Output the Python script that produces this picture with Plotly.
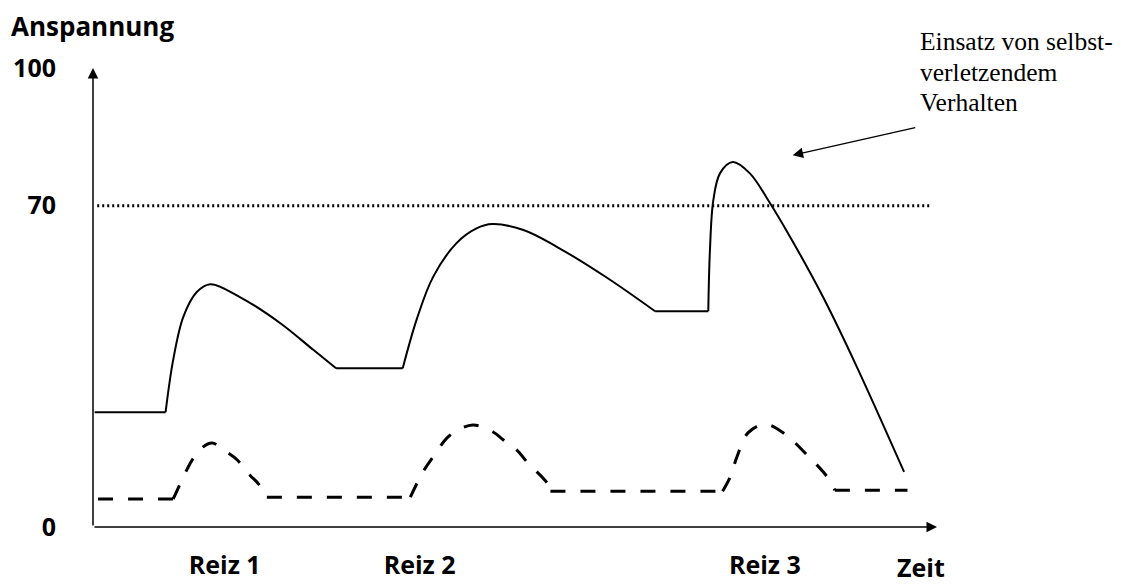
import plotly.graph_objects as go

# ---------------- data ----------------
# Solid curve: tension with self-harm (Zeit, Anspannung)
solid_x = [0.2, 8.6, 9.5, 10.7, 12.3, 13.9, 17.4, 22.2, 26.1, 28.8, 36.7,
           38.4, 40.3, 43.1, 45.5, 47.3, 51.0, 55.0, 60.9, 66.6, 72.9,
           73.1, 73.5, 74.3, 75.8, 77.8, 80.0, 82.6, 86.5, 90.5, 96.1]
solid_y = [25.0, 25.0, 36.4, 45.8, 51.2, 52.9, 50.1, 44.4, 38.6, 34.6, 34.6,
           45.5, 54.5, 61.9, 65.1, 66.0, 64.7, 61.0, 54.3, 47.0, 47.0,
           60.4, 71.2, 77.1, 79.5, 77.1, 71.2, 63.2, 50.1, 34.9, 12.0]

# Dashed curve: tension reaction without build-up
dashed_x = [0.6, 9.5, 10.0, 11.1, 11.9, 13.0, 14.1, 15.9, 17.1, 18.6, 19.6, 20.6,
            37.6, 39.1, 40.3, 42.3, 45.0, 47.4, 48.6, 50.2, 51.4, 53.8, 54.2,
            74.6, 75.5, 76.3, 77.6, 79.6, 81.8, 84.6, 87.0, 87.9, 96.5]
dashed_y = [6.1, 6.1, 8.1, 12.4, 15.0, 17.4, 18.3, 16.3, 14.6, 11.3, 9.4, 6.5,
            6.5, 12.0, 15.3, 20.0, 22.2, 20.7, 19.0, 16.8, 14.2, 9.6, 7.8,
            7.8, 10.9, 15.3, 20.5, 22.4, 20.5, 15.7, 10.9, 8.0, 8.0]

threshold_value = 70
threshold_x = [0.5, 99.2]

y_tick_vals = [0, 70, 100]
y_tick_text = ["0", "70", "100"]
x_tick_vals = [15.6, 38.7, 79.6]
x_tick_text = ["Reiz 1", "Reiz 2", "Reiz 3"]

y_title = "Anspannung"
x_title = "Zeit"
note_lines = ["Einsatz von selbst-", "verletzendem", "Verhalten"]
note_arrow_tail = (97.6, 87.1)
note_arrow_tip = (82.9, 81.0)

# ---------------- layout constants ----------------
W, H = 1126, 585
L, R, T, B = 93, 189, 68, 58
PW, PH = W - L - R, H - T - B

def px_to_paper(px, py):
    return (px - L) / PW, (H - B - py) / PH

BOLD = dict(family="Open Sans", size=25, color="black", weight="bold")
BOLD_TITLE = dict(family="Open Sans", size=26, color="black", weight="bold")
SERIF = dict(family="Liberation Serif", size=25.5, color="black")


def pieces(xs, ys):
    """Split a series into flat (linear) and curved (spline) runs."""
    out, i, n = [], 0, len(xs)
    while i < n - 1:
        if ys[i] == ys[i + 1]:
            out.append(("linear", xs[i:i + 2], ys[i:i + 2]))
            i += 1
        else:
            j = i + 1
            while j < n - 1 and ys[j] != ys[j + 1]:
                j += 1
            out.append(("spline", xs[i:j + 1], ys[i:j + 1]))
            i = j
    return out


fig = go.Figure()

for shape, xs, ys in pieces(solid_x, solid_y):
    fig.add_trace(go.Scatter(x=xs, y=ys, mode="lines", showlegend=False,
                             hoverinfo="skip",
                             line=dict(color="black", width=2, shape=shape,
                                       smoothing=1.0)))

for shape, xs, ys in pieces(dashed_x, dashed_y):
    fig.add_trace(go.Scatter(x=xs, y=ys, mode="lines", showlegend=False,
                             hoverinfo="skip",
                             line=dict(color="black", width=3, shape=shape,
                                       smoothing=1.0, dash="15px,15px")))

fig.add_trace(go.Scatter(x=threshold_x, y=[threshold_value] * 2, mode="lines",
                         showlegend=False, hoverinfo="skip",
                         line=dict(color="black", width=3, dash="2px,3px")))

annotations = []
# axis arrows
annotations.append(dict(x=0, y=100, ax=0, ay=0, xref="x", yref="y",
                        axref="x", ayref="y", text="", showarrow=True,
                        arrowhead=2, arrowsize=1.4, arrowwidth=1.5,
                        arrowcolor="black"))
annotations.append(dict(x=100, y=0, ax=0, ay=0, xref="x", yref="y",
                        axref="x", ayref="y", text="", showarrow=True,
                        arrowhead=2, arrowsize=1.4, arrowwidth=1.5,
                        arrowcolor="black"))
# note arrow
annotations.append(dict(x=note_arrow_tip[0], y=note_arrow_tip[1],
                        ax=note_arrow_tail[0], ay=note_arrow_tail[1],
                        xref="x", yref="y", axref="x", ayref="y", text="",
                        showarrow=True, arrowhead=2, arrowsize=1.6,
                        arrowwidth=1.3, arrowcolor="black"))
# titles
px, py = px_to_paper(9, 26)
annotations.append(dict(x=px, y=py, xref="paper", yref="paper", text=y_title,
                        showarrow=False, xanchor="left", yanchor="middle",
                        font=BOLD_TITLE))
px, py = px_to_paper(921, 567)
annotations.append(dict(x=px, y=py, xref="paper", yref="paper", text=x_title,
                        showarrow=False, xanchor="center", yanchor="middle",
                        font=BOLD))
for k, line in enumerate(note_lines):
    px, py = px_to_paper(918, 42 + 30 * k)
    annotations.append(dict(x=px, y=py, xref="paper", yref="paper", text=line,
                            showarrow=False, xanchor="left", yanchor="middle",
                            font=SERIF))

fig.update_layout(
    width=W, height=H,
    margin=dict(l=L, r=R, t=T, b=B, autoexpand=False),
    paper_bgcolor="white", plot_bgcolor="white",
    showlegend=False,
    annotations=annotations,
    xaxis=dict(range=[0, 100], showgrid=False, zeroline=False, showline=False,
               tickvals=x_tick_vals, ticktext=x_tick_text, ticks="",
               tickfont=BOLD, ticklabelstandoff=21, automargin=False),
    yaxis=dict(range=[0, 100], showgrid=False, zeroline=False, showline=False,
               tickvals=y_tick_vals, ticktext=y_tick_text, ticks="",
               tickfont=BOLD, ticklabelstandoff=36, automargin=False),
)

fig.write_html("out.html", post_script="document.body.style.margin='0';",
               config={"displayModeBar": False})
